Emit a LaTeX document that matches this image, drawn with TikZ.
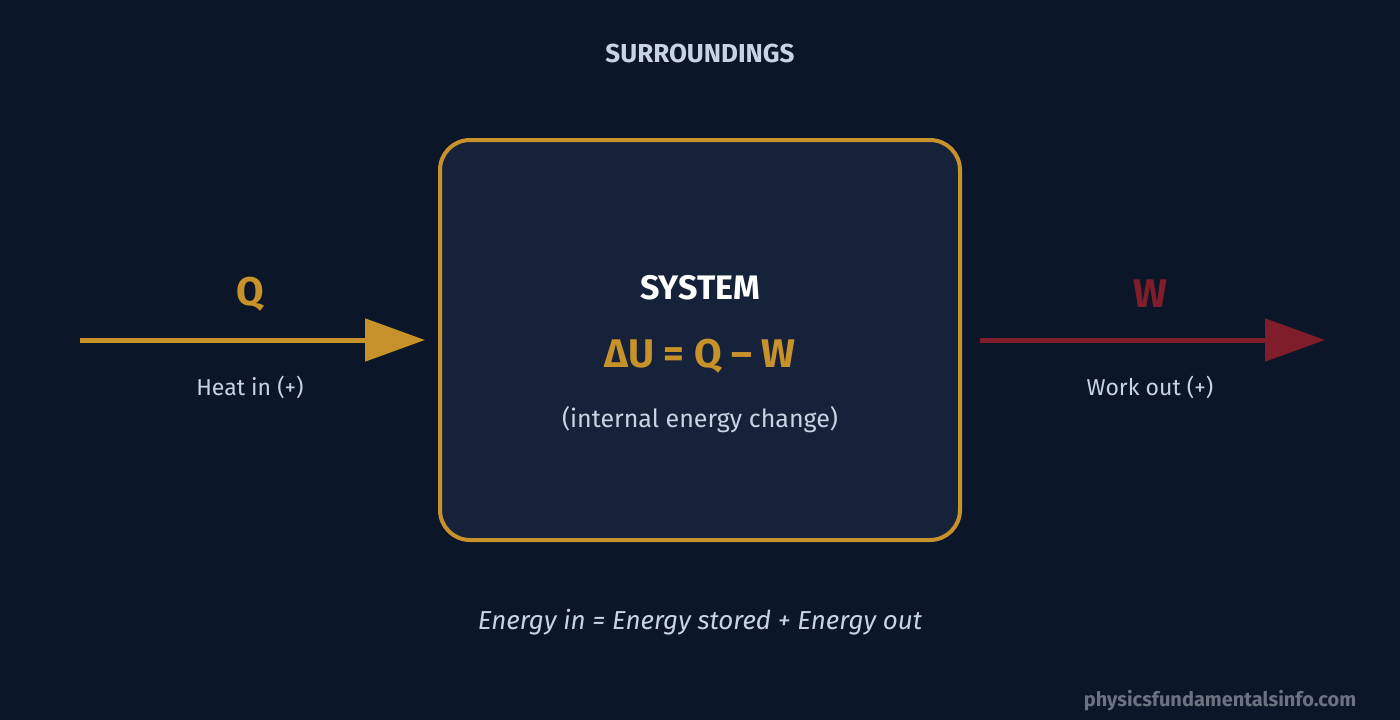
\documentclass[tikz,border=0pt]{standalone}
\usepackage{fontspec}
\setmainfont{Fira Sans}
\usetikzlibrary{arrows.meta}
\definecolor{bg}{HTML}{0B1628}
\definecolor{boxfill}{HTML}{16213A}
\definecolor{gold}{HTML}{C8922A}
\definecolor{wine}{HTML}{7F1D2A}
\definecolor{lite}{HTML}{C8D3E3}
\definecolor{mark}{HTML}{6B7280}
\begin{document}
\begin{tikzpicture}[x=1pt,y=-1pt,
  txt/.style={inner sep=0pt,anchor=center},
  flow/.style={line width=5pt,-{Triangle[length=60pt,width=42pt]}}]
\fill[bg] (0,0) rectangle (1400,720);
\useasboundingbox (0,0) rectangle (1400,720);
\node[txt,text=lite,font=\fontsize{26}{30}\selectfont\bfseries] (sur) at (700,53) {SURROUNDINGS};
\node[draw=gold,fill=boxfill,line width=4pt,rounded corners=30pt,minimum width=520pt,minimum height=400pt] (sys) at (700,340) {};
\node[txt,text=white,font=\fontsize{34}{40}\selectfont\bfseries] (st) at (700,288) {SYSTEM};
\node[txt,text=gold,font=\fontsize{40}{46}\selectfont\bfseries] (eq) at (700,356) {ΔU = Q – W};
\node[txt,text=lite,font=\fontsize{25}{30}\selectfont] (ie) at (700,420) {(internal energy change)};
\coordinate (qs) at (80,340);
\coordinate (qe) at (425,340);
\draw[flow,draw=gold,fill=gold] (qs) -- (qe);
\node[txt,text=gold,font=\fontsize{40}{46}\selectfont\bfseries] (q) at (250,294) {Q};
\node[txt,text=lite,font=\fontsize{23}{28}\selectfont] (hi) at (250,387) {Heat in (+)};
\coordinate (ws) at (980,340);
\coordinate (we) at (1325,340);
\draw[flow,draw=wine,fill=wine] (ws) -- (we);
\node[txt,text=wine,font=\fontsize{40}{46}\selectfont\bfseries] (w) at (1150,294) {W};
\node[txt,text=lite,font=\fontsize{23}{28}\selectfont] (wo) at (1150,387) {Work out (+)};
\node[txt,text=lite,font=\fontsize{26}{30}\selectfont\itshape] (bal) at (700,622) {Energy in = Energy stored + Energy out};
\node[txt,text=mark,font=\fontsize{20}{24}\selectfont\bfseries] (wm) at (1220,701) {physicsfundamentalsinfo.com};
\end{tikzpicture}
\end{document}
